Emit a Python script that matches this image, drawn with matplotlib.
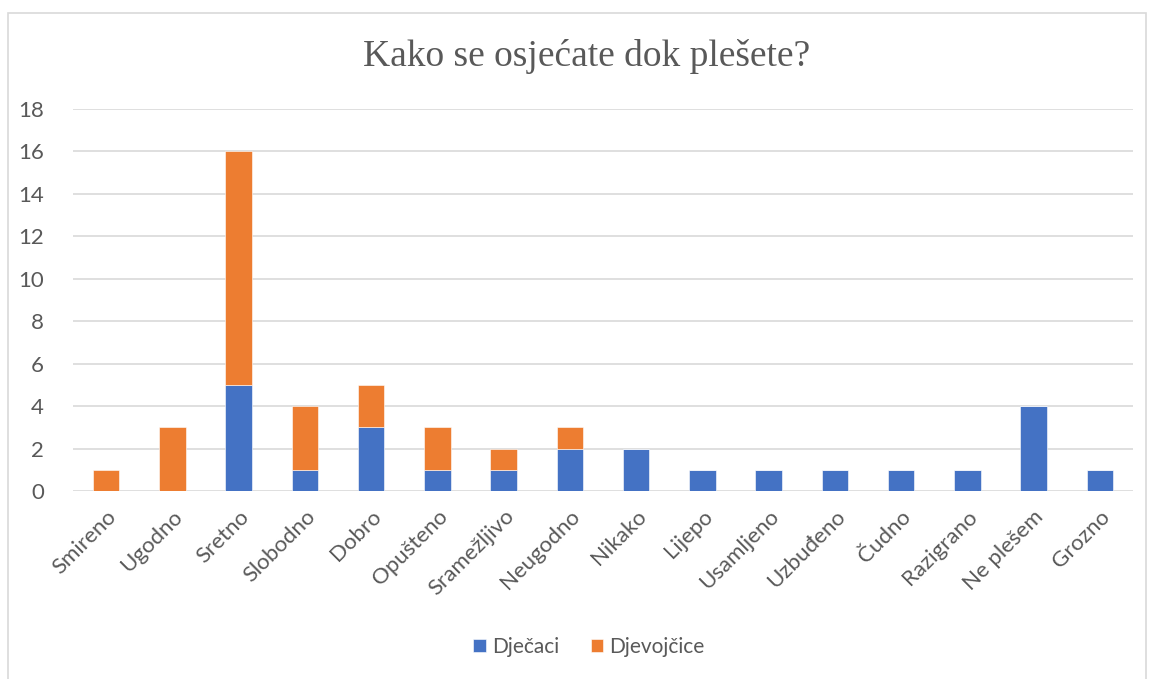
import matplotlib.pyplot as plt
import numpy as np
from matplotlib.patches import Rectangle

kategorije = ["Smireno", "Ugodno", "Sretno", "Slobodno", "Dobro", "Opušteno",
              "Sramežljivo", "Neugodno", "Nikako", "Lijepo", "Usamljeno",
              "Uzbuđeno", "Čudno", "Razigrano", "Ne plešem", "Grozno"]
djecaci = [0, 0, 5, 1, 3, 1, 1, 2, 2, 1, 1, 1, 1, 1, 4, 1]
djevojcice = [1, 3, 11, 3, 2, 2, 1, 1, 0, 0, 0, 0, 0, 0, 0, 0]
y_ticks = [0, 2, 4, 6, 8, 10, 12, 14, 16, 18]

plava = "#4472C4"
narancasta = "#ED7D31"
siva_tekst = "#595959"

W, H = 1151, 679
fig = plt.figure(figsize=(W / 100, H / 100), dpi=100)

# okvir grafikona
fig.patches.append(Rectangle((8 / W, -0.01), (1146 - 8) / W, 1 - 13 / H + 0.01,
                             transform=fig.transFigure, fill=False,
                             edgecolor="#D9D9D9", linewidth=1.2))

ax = fig.add_axes([73 / W, (H - 491) / H, (1133 - 73) / W, (491 - 109) / H])

x = np.arange(len(kategorije))
ax.bar(x, djecaci, width=0.4, color=plava, label="Dječaci", zorder=3,
       edgecolor="white", linewidth=0.4)
ax.bar(x, djevojcice, width=0.4, bottom=djecaci, color=narancasta,
       label="Djevojčice", zorder=3, edgecolor="white", linewidth=0.4)

ax.set_xlim(-0.5, len(kategorije) - 0.5)
ax.set_ylim(0, 18)
ax.yaxis.grid(True, color="#D9D9D9", linewidth=1.2, zorder=0)
ax.set_axisbelow(True)
for s in ax.spines.values():
    s.set_visible(False)

font = ["Lato", "DejaVu Sans"]
ax.set_yticks(y_ticks, [str(v) for v in y_ticks], fontsize=16, color=siva_tekst,
              family=font)
ax.set_xticks(x, kategorije, rotation=45, ha="right", va="top",
              rotation_mode="anchor", fontsize=16, color=siva_tekst, family=font)
ax.tick_params(axis="both", length=0)
ax.tick_params(axis="y", pad=21)
ax.tick_params(axis="x", pad=11)

fig.text(587 / W, 1 - 56 / H, "Kako se osjećate dok plešete?", ha="center",
         va="center", fontsize=27, color=siva_tekst, family="Liberation Serif")

ax.legend(loc="center", bbox_to_anchor=(589 / W, 1 - 647 / H),
          bbox_transform=fig.transFigure, ncol=2, frameon=False,
          prop={"family": font, "size": 15}, labelcolor=siva_tekst,
          handlelength=0.6, handleheight=0.6, handletextpad=0.3,
          columnspacing=1.5)

fig.savefig("out.png", dpi=100)
